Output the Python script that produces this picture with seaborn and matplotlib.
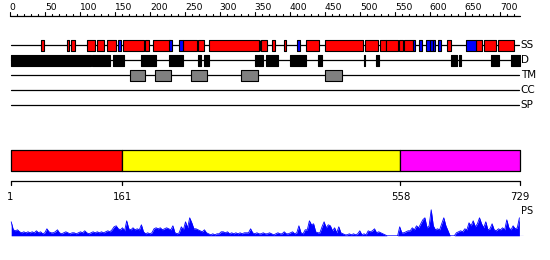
import matplotlib
matplotlib.use("Agg")
import matplotlib.pyplot as plt
import seaborn as sns
import numpy as np

# ---------------- data ----------------
seq_length = 729
track_names = ["SS", "D", "TM", "CC", "SP"]

helix_segments = [(45, 49), (82, 84), (88, 93), (110, 122), (125, 134), (139, 152),
                  (162, 191), (193, 199), (205, 229), (248, 268), (269, 278),
                  (285, 356), (357, 358), (359, 368), (374, 379), (391, 395),
                  (423, 442), (450, 504), (508, 526), (529, 537), (538, 554),
                  (556, 561), (563, 576), (624, 630), (666, 675), (677, 695), (698, 720)]
strand_segments = [(154, 159), (228, 232), (242, 247), (410, 414), (576, 579),
                   (584, 589), (594, 600), (600, 604), (604, 608), (611, 616), (651, 666)]
disorder_segments = [(1, 116), (117, 143), (148, 163), (188, 209), (228, 248),
                     (269, 273), (277, 285), (350, 353), (354, 362), (366, 383),
                     (400, 413), (413, 423), (440, 446), (506, 508), (523, 528),
                     (630, 639), (641, 645), (688, 699), (716, 729)]
tm_segments = [(171, 193), (208, 230), (259, 281), (330, 354), (450, 474)]

domain_starts = [1, 161, 558]
domain_ends = [161, 558, 729]
domain_colors = ["#ff0000", "#ffff00", "#ff00ff"]
domain_ticks = [1, 161, 558, 729]

ps_bin = 3
ps_values = [
    14, 6, 5, 6, 4, 3, 4, 3, 4, 3,
    4, 3, 5, 3, 4, 2, 3, 7, 4, 3,
    3, 4, 6, 3, 2, 3, 4, 3, 2, 3,
    3, 2, 3, 4, 3, 5, 3, 2, 3, 4,
    3, 4, 3, 4, 3, 4, 5, 4, 6, 9,
    10, 7, 6, 8, 5, 15, 7, 6, 8, 6,
    7, 6, 11, 4, 2, 3, 2, 3, 7, 8,
    7, 8, 6, 7, 8, 7, 6, 10, 3, 2,
    3, 9, 6, 14, 8, 18, 13, 7, 7, 6,
    5, 4, 6, 3, 2, 1, 2, 1, 2, 2,
    4, 4, 3, 4, 2, 3, 2, 3, 2, 3,
    2, 3, 3, 3, 7, 3, 2, 3, 2, 2,
    3, 2, 2, 3, 2, 1, 2, 3, 2, 2,
    4, 2, 2, 3, 4, 2, 3, 10, 3, 2,
    6, 6, 15, 11, 12, 4, 3, 3, 9, 14,
    8, 11, 10, 5, 8, 3, 9, 3, 2, 1,
    1, 2, 1, 2, 1, 2, 5, 1, 2, 1,
    5, 4, 5, 7, 3, 4, 3, 2, 1, 0,
    0, 0, 0, 0, 0, 9, 3, 3, 4, 5,
    5, 8, 6, 10, 8, 12, 16, 18, 8, 10,
    26, 10, 6, 7, 6, 12, 18, 10, 5, 0,
    0, 0, 3, 4, 5, 4, 7, 6, 13, 10,
    15, 9, 12, 18, 12, 8, 14, 6, 7, 12,
    6, 5, 7, 6, 8, 6, 16, 8, 6, 10,
    7, 8, 18,
]

# ---------------- figure ----------------
sns.set_theme(style="white")
plt.rcParams["font.family"] = ["DejaVu Sans"]

W, H = 550, 260
fig = plt.figure(figsize=(W / 100, H / 100), dpi=100)
px0 = 9.8      # pixel x of residue 0
pxr = 0.7      # pixels per residue
xl = (-px0 / pxr, (W - px0) / pxr)

ax = fig.add_axes([0, 0, 1, 1])
ax.set_xlim(*xl)
ax.set_ylim(H, 0)
ax.axis("off")

lw = 0.9

# ruler
ruler_y = 15.5
ax.plot([0, seq_length], [ruler_y, ruler_y], color="black", lw=lw)
for r in range(0, 721, 10):
    L = 4 if r % 50 == 0 else 2
    ax.plot([r, r], [ruler_y, ruler_y - L], color="black", lw=0.8)
    if r % 50 == 0:
        ax.text(r, 9.8, str(r), ha="left", va="baseline", fontsize=6.6, color="black")

# tracks
track_y = [45.3, 60.3, 75.3, 90.3, 105.3]
for name, y in zip(track_names, track_y):
    ax.plot([1, seq_length - 1], [y, y], color="black", lw=lw, zorder=1)
    ax.text(seq_length + 1, y, name, ha="left", va="center", fontsize=7.5, color="black")

bh = 10.7
def draw(segs, y, color):
    ax.broken_barh([(s, e - s) for s, e in segs], (y - bh / 2, bh),
                   facecolors=color, edgecolors="black", linewidth=0.8, zorder=3)

draw(helix_segments, track_y[0], "#ff0000")
draw(strand_segments, track_y[0], "#0000ff")
draw(disorder_segments, track_y[1], "black")
draw(tm_segments, track_y[2], "#808080")

# domain bar
for s, e, c in zip(domain_starts, domain_ends, domain_colors):
    ax.broken_barh([(s, e - s)], (150.3, 20.4), facecolors=c,
                   edgecolors="black", linewidth=0.9, zorder=3)

axis_y = 180.8
ax.plot([1, seq_length], [axis_y, axis_y], color="black", lw=lw)
for t in domain_ticks:
    ax.plot([t, t], [axis_y, axis_y + 4.5], color="black", lw=0.9)
    ax.text(t, 196.5, str(t), ha="center", va="center", fontsize=7.3, color="black")

# PS profile
base_px = 235.8
ps_ax = fig.add_axes([0, (H - base_px) / H, 1, 30 / H])
ps_ax.set_xlim(*xl)
ps_ax.set_ylim(0, 30)
ps_ax.axis("off")
ps_pos = np.arange(len(ps_values)) * ps_bin + 2
sns.lineplot(x=ps_pos, y=ps_values, ax=ps_ax, color="#0000ff", lw=0.6)
ps_ax.fill_between(ps_pos, 0, ps_values, color="#0000ff", lw=0)
ps_ax.plot([1, seq_length + 4], [0, 0], color="#0000ff", lw=0.8)
ax.text(seq_length + 2, 211.5, "PS", ha="left", va="center", fontsize=7, color="black")

fig.savefig("out.png", dpi=100)
